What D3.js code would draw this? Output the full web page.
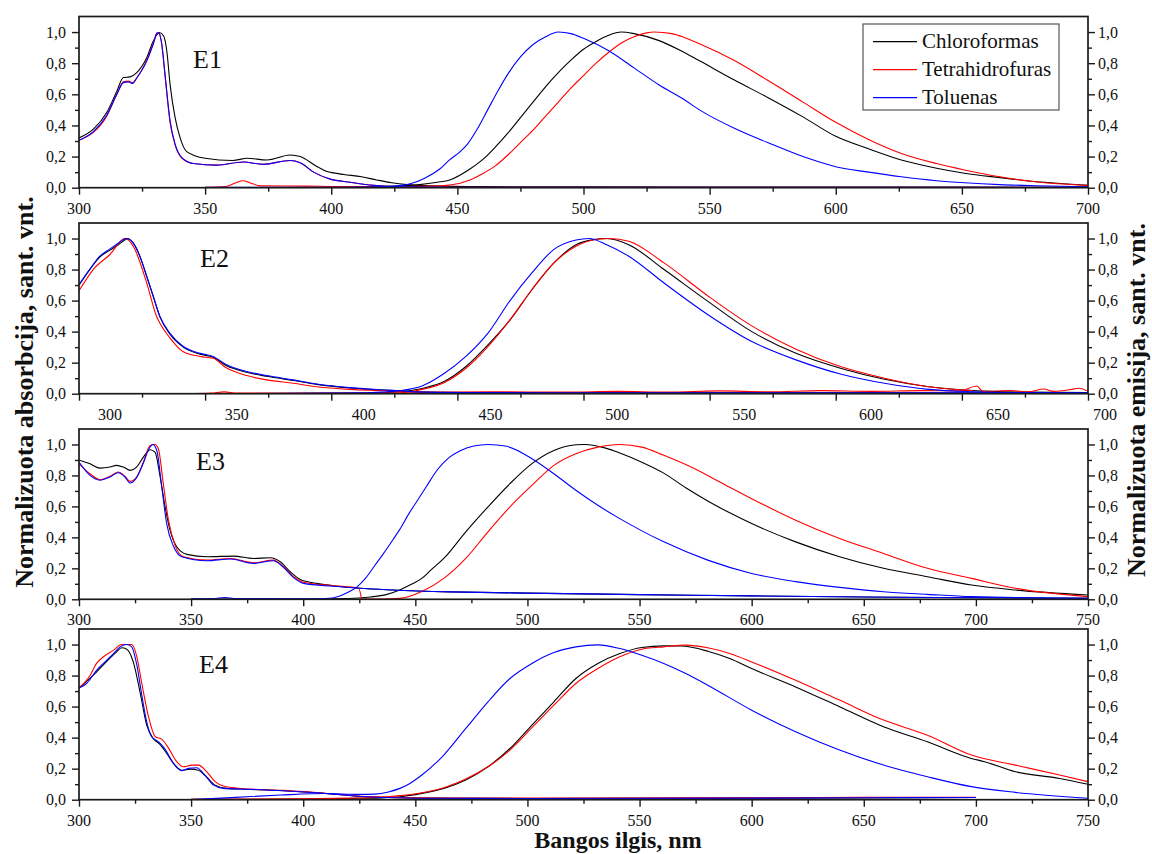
<!DOCTYPE html>
<html>
<head>
<meta charset="utf-8">
<script src="https://cdn.jsdelivr.net/npm/d3@7"></script>
<style>
  body { margin: 0; background: #fff; }
  svg { display: block; }
  text { font-family: "Liberation Serif", "Times New Roman", serif; fill: #111; }
</style>
</head>
<body>
<svg id="chart" width="1152" height="854"></svg>
<script>
// ---------- series: [wavelength nm, normalised intensity] ----------
const solvents = ["Chloroformas", "Tetrahidrofuras", "Toluenas"];
const solventColors = ["#000000", "#ff0000", "#0000ff"];
const panelNames = ["E1", "E2", "E3", "E4"];

const yTickValues = [0, 0.2, 0.4, 0.6, 0.8, 1.0];
const yTickLabels = ["0,0", "0,2", "0,4", "0,6", "0,8", "1,0"];
const yMinorValues = [0.1, 0.3, 0.5, 0.7, 0.9];
const xLabelsShort = [300, 350, 400, 450, 500, 550, 600, 650, 700];
const xLabelsLong = [300, 350, 400, 450, 500, 550, 600, 650, 700, 750];

// E1
const e1AbsChl = [[300,0.32],[305.7,0.376],[311,0.483],[315,0.62],[317.6,0.708],[320.2,0.712],[322.9,0.74],[326.9,0.837],[329.5,0.944],[331.9,0.997],[333.5,0.976],[334.8,0.88],[336.1,0.664],[338.1,0.45],[340.1,0.32],[342.7,0.232],[350,0.189],[361,0.175],[366.7,0.189],[374.5,0.178],[383.7,0.21],[387.7,0.2],[394.3,0.136],[398.3,0.104],[400.9,0.095],[405,0.085],[412,0.07],[418,0.05],[424,0.032],[430,0.02],[440,0.012],[460,0.007],[500,0.005],[600,0.004],[700,0.003]];
const e1AbsThf = [[300,0.305],[305.7,0.355],[311,0.46],[315,0.6],[317.6,0.68],[319.6,0.685],[321.3,0.675],[322.9,0.705],[326.9,0.82],[329.5,0.93],[331,0.995],[331.8,0.99],[332.8,0.92],[334.1,0.72],[336.1,0.42],[338.1,0.275],[340.7,0.19],[345.4,0.155],[354.6,0.145],[365.2,0.165],[373.1,0.15],[383.7,0.175],[387.7,0.16],[393,0.1],[399.6,0.055],[407.5,0.035],[416.8,0.015],[427.4,0.005],[450,0.003],[700,0.002]];
const e1AbsTol = [[300,0.305],[305.7,0.36],[311,0.465],[315,0.6],[317.6,0.675],[319.6,0.68],[321.3,0.67],[322.9,0.705],[326.9,0.815],[329.5,0.925],[331,0.995],[331.8,0.99],[332.8,0.925],[334.1,0.73],[336.1,0.43],[338.1,0.28],[340.7,0.195],[345.4,0.155],[354.6,0.145],[365.2,0.165],[373.1,0.15],[383.7,0.175],[387.7,0.16],[393,0.1],[399.6,0.055],[407.5,0.035],[416.8,0.015],[427.4,0.005],[450,0.003],[700,0.002]];
const e1EmChl = [[350,0.0],[400,0.002],[425,0.01],[435,0.02],[442,0.035],[447,0.05],[455,0.12],[460,0.18],[465,0.26],[470,0.35],[475,0.45],[480,0.55],[485,0.65],[490,0.74],[495,0.82],[500,0.89],[505,0.94],[510,0.98],[515,1.0],[520,0.99],[530,0.945],[538,0.885],[546,0.815],[560,0.69],[573,0.58],[587,0.455],[600,0.33],[613,0.25],[626,0.178],[640,0.125],[651,0.093],[665,0.065],[679,0.04],[700,0.015]];
const e1EmThf = [[350,0.003],[358,0.008],[362,0.03],[365,0.045],[368,0.03],[372,0.012],[390,0.01],[400,0.008],[420,0.006],[440,0.01],[447,0.017],[455,0.05],[460,0.09],[465,0.14],[470,0.21],[475,0.29],[480,0.37],[485,0.46],[490,0.55],[495,0.64],[500,0.72],[505,0.8],[510,0.87],[515,0.93],[520,0.97],[525,0.995],[528,1.0],[535,0.99],[540,0.965],[546,0.925],[560,0.815],[573,0.69],[587,0.55],[600,0.42],[613,0.31],[626,0.22],[640,0.155],[651,0.114],[665,0.07],[679,0.038],[700,0.015]];
const e1EmTol = [[350,0.002],[400,0.003],[420,0.006],[430,0.02],[437,0.06],[443,0.12],[447,0.18],[451,0.23],[454,0.28],[458,0.38],[462,0.5],[466,0.62],[470,0.73],[475,0.84],[480,0.92],[485,0.97],[490,1.0],[495,0.99],[500,0.96],[510,0.88],[520,0.77],[530,0.66],[540,0.565],[546,0.5],[560,0.38],[573,0.29],[587,0.2],[600,0.135],[613,0.1],[626,0.07],[640,0.045],[651,0.032],[665,0.02],[679,0.013],[700,0.006]];

// E2
const e2AbsChl = [[287.8,0.7],[292,0.8],[296,0.88],[300,0.925],[303.3,0.96],[306.3,0.995],[307,1.0],[309.2,0.97],[311.8,0.885],[314.5,0.755],[317.1,0.625],[319.7,0.495],[323.6,0.385],[328.9,0.3],[335.5,0.255],[340.7,0.235],[346,0.18],[353.9,0.138],[361.8,0.112],[372.3,0.085],[381.5,0.06],[394.6,0.037],[407.7,0.023],[414.3,0.02],[420,0.012],[440,0.008],[500,0.006],[600,0.005],[685.5,0.004]];
const e2AbsThf = [[287.8,0.663],[293.4,0.8],[300,0.897],[305.9,1.0],[309.2,0.95],[314.5,0.713],[318.4,0.497],[319.7,0.454],[323.6,0.36],[328.9,0.27],[335.5,0.24],[340.7,0.228],[346,0.165],[353.9,0.117],[361.8,0.089],[372.3,0.067],[381.5,0.045],[394.6,0.028],[407.7,0.02],[420,0.01],[450,0.012],[480,0.01],[500,0.015],[520,0.01],[540,0.018],[560,0.012],[580,0.02],[600,0.015],[620,0.02],[635,0.018],[641.7,0.05],[644,0.015],[655,0.02],[662,0.012],[668,0.03],[672,0.015],[678,0.025],[682,0.035],[685.5,0.015]];
const e2AbsTol = [[287.8,0.703],[292,0.8],[296,0.886],[300,0.933],[303.3,0.97],[306.3,1.0],[309.2,0.97],[311.8,0.886],[314.5,0.756],[317.1,0.627],[319.7,0.497],[323.6,0.39],[328.9,0.304],[335.5,0.26],[340.7,0.24],[346,0.186],[353.9,0.143],[361.8,0.117],[372.3,0.089],[381.5,0.063],[394.6,0.039],[407.7,0.024],[414.3,0.02],[420,0.012],[440,0.008],[500,0.006],[600,0.005],[685.5,0.005]];
const e2EmChl = [[330,0.0],[400,0.004],[414.3,0.013],[423,0.034],[431.7,0.078],[440.3,0.175],[449,0.315],[457.7,0.476],[466.3,0.67],[475,0.843],[483.7,0.96],[490.6,0.993],[495.8,1.0],[504.5,0.96],[518.4,0.8],[535.7,0.595],[553,0.4],[570.4,0.26],[587.9,0.164],[605.3,0.093],[622.7,0.045],[640,0.02],[660,0.01],[685.5,0.007]];
const e2EmThf = [[330,0.0],[340,0.004],[345,0.012],[350,0.004],[400,0.004],[414.3,0.006],[423,0.028],[431.7,0.071],[440.3,0.164],[449,0.304],[457.7,0.476],[466.3,0.67],[475,0.843],[483.7,0.95],[492,0.995],[497,1.0],[504.5,0.983],[518.4,0.843],[535.7,0.63],[553,0.437],[570.4,0.287],[587.9,0.175],[605.3,0.1],[622.7,0.045],[640,0.02]];
const e2EmTol = [[330,0.0],[400,0.005],[407,0.01],[414.3,0.02],[423,0.05],[431.7,0.13],[440.3,0.24],[449,0.39],[457.7,0.6],[466.3,0.778],[475,0.93],[483.7,0.99],[488.8,1.0],[495.8,0.96],[504.5,0.886],[518.4,0.713],[535.7,0.509],[553,0.336],[570.4,0.218],[587.9,0.127],[605.3,0.067],[622.7,0.028],[640,0.013],[660,0.007],[685.5,0.005]];

// E3
const e3AbsChl = [[300,0.9],[304.9,0.875],[309.4,0.847],[313.8,0.854],[316.8,0.865],[319.8,0.854],[322.8,0.833],[325.7,0.854],[328.7,0.918],[331.7,0.966],[333.9,0.95],[336.2,0.79],[338.4,0.597],[340.6,0.447],[343.6,0.339],[348.1,0.29],[357,0.275],[369,0.279],[377.8,0.264],[385.3,0.268],[389.7,0.243],[394.2,0.178],[398.7,0.128],[406.1,0.103],[413.5,0.088],[425.4,0.071],[440,0.06],[465.6,0.048],[500,0.04],[550,0.03],[600,0.022],[650,0.015],[700,0.01],[750,0.006]];
const e3AbsThf = [[300,0.875],[304.9,0.811],[309.4,0.772],[313.8,0.794],[317.5,0.822],[320.5,0.794],[322.8,0.762],[325.7,0.79],[328.7,0.886],[331.7,0.993],[333.9,1.0],[335.4,0.972],[337.6,0.747],[339.9,0.511],[342.8,0.35],[346.6,0.275],[357,0.253],[367.5,0.264],[377.8,0.236],[386.7,0.253],[391.2,0.21],[395.7,0.146],[400.1,0.11],[413.5,0.088],[424.7,0.071],[426,0.002]];
const e3AbsTol = [[300,0.886],[304.9,0.8],[309.4,0.769],[313.8,0.79],[317.5,0.817],[320.5,0.79],[322.8,0.751],[325.7,0.786],[328.7,0.88],[331,0.966],[332.9,1.0],[334.7,0.961],[336.9,0.726],[339.1,0.489],[342.1,0.344],[345.8,0.275],[357,0.249],[367.5,0.26],[377.8,0.232],[386.7,0.249],[391.2,0.206],[395.7,0.14],[400.1,0.103],[413.5,0.084],[425.4,0.071],[440,0.06],[465.6,0.048],[500,0.04],[550,0.03],[600,0.022],[650,0.015],[700,0.01],[750,0.006]];
const e3EmChl = [[350,0.002],[400,0.002],[420,0.005],[430,0.015],[437,0.03],[443,0.06],[448,0.095],[452.9,0.135],[457,0.19],[462.7,0.264],[472.5,0.436],[482.4,0.597],[492.2,0.747],[502,0.876],[511.8,0.961],[521.6,0.998],[525.5,1.0],[535.3,0.975],[541.2,0.945],[551,0.886],[560.8,0.815],[570.6,0.72],[580.4,0.635],[590,0.56],[600,0.489],[619.6,0.371],[639.2,0.275],[658.8,0.2],[678.4,0.146],[698,0.092],[717.6,0.06],[750,0.028]];
const e3EmThf = [[426,0.002],[435,0.002],[443,0.006],[452.9,0.05],[462.7,0.135],[472.5,0.264],[482.4,0.436],[492.2,0.597],[502,0.736],[511.8,0.865],[521.6,0.94],[531.4,0.983],[541.2,1.0],[551,0.983],[560.8,0.93],[570.6,0.87],[580.4,0.8],[590,0.725],[600,0.65],[619.6,0.511],[639.2,0.393],[658.8,0.296],[678.4,0.2],[698,0.135],[717.6,0.071],[750,0.017]];
const e3EmTol = [[350,0.003],[360,0.005],[365,0.012],[370,0.005],[400,0.003],[410,0.005],[416,0.02],[420,0.045],[424,0.08],[428,0.14],[432,0.22],[436,0.3],[440,0.385],[443,0.45],[447,0.55],[451,0.64],[455,0.73],[460,0.84],[465,0.915],[470,0.96],[476,0.99],[482.4,1.0],[490.2,0.99],[502,0.908],[511.8,0.811],[521.6,0.704],[531.4,0.607],[541.2,0.521],[560.8,0.371],[580.4,0.253],[600,0.167],[619.6,0.114],[639.2,0.077],[658.8,0.049],[678.4,0.032],[698,0.017],[750,0.006]];

// E4
const e4AbsChl = [[300,0.72],[307.9,0.824],[312.4,0.892],[316.8,0.953],[319,0.979],[321.3,0.97],[324.2,0.888],[327.2,0.695],[330.2,0.48],[333.1,0.395],[336.1,0.356],[339.1,0.298],[342.8,0.223],[345.8,0.19],[349.5,0.197],[353.3,0.19],[356.3,0.155],[360.7,0.094],[365.8,0.073],[371.9,0.069],[391.2,0.058],[406.1,0.045],[428.4,0.019],[458.2,0.01],[500,0.008],[600,0.01],[650,0.012],[700,0.014]];
const e4AbsThf = [[300,0.72],[304.9,0.8],[307.9,0.88],[310.9,0.921],[315.4,0.964],[319,1.0],[323.5,1.0],[325.8,0.921],[328,0.75],[331,0.535],[334,0.406],[337,0.389],[340,0.331],[343.6,0.245],[346.6,0.212],[350.3,0.223],[353.3,0.223],[357,0.18],[360.7,0.116],[364.4,0.088],[371.9,0.072],[391.2,0.06],[406.1,0.046],[428.4,0.02],[458.2,0.011],[500,0.01],[600,0.012],[655,0.016],[700,0.016]];
const e4AbsTol = [[300,0.72],[303.4,0.749],[307.9,0.835],[312.4,0.899],[315.4,0.942],[318.3,0.985],[321.3,1.0],[323.5,0.985],[325.8,0.867],[328,0.674],[330.2,0.502],[332.4,0.406],[335.4,0.374],[338.4,0.326],[342.1,0.234],[345.8,0.187],[348.8,0.202],[352.5,0.206],[355.5,0.17],[360,0.094],[364.4,0.073],[371.9,0.069],[391.2,0.058],[406.1,0.045],[428.4,0.019],[458.2,0.009],[500,0.008],[600,0.01],[650,0.013],[700,0.014]];
const e4EmChl = [[350,0.002],[400,0.004],[420,0.008],[435,0.012],[443.1,0.019],[452.9,0.041],[462.7,0.073],[472.5,0.127],[482.4,0.212],[492.2,0.33],[502,0.481],[511.8,0.631],[521.6,0.781],[531.4,0.878],[541.2,0.942],[551,0.981],[560.8,0.991],[568.6,0.99],[580.4,0.957],[590.2,0.91],[600,0.845],[619.6,0.727],[639.2,0.599],[658.8,0.47],[678.4,0.373],[698,0.266],[703.9,0.245],[717.6,0.18],[737.3,0.137],[750,0.099]];
const e4EmThf = [[350,0.002],[400,0.005],[420,0.01],[435,0.016],[443.1,0.026],[452.9,0.045],[462.7,0.077],[472.5,0.133],[482.4,0.212],[492.2,0.32],[502,0.464],[511.8,0.609],[521.6,0.749],[531.4,0.845],[541.2,0.921],[551,0.97],[560.8,0.985],[570.6,0.996],[580.4,0.979],[590.2,0.942],[600,0.888],[619.6,0.77],[639.2,0.642],[658.8,0.513],[678.4,0.416],[698,0.288],[717.6,0.223],[737.3,0.159],[750,0.116]];
const e4EmTol = [[350,0.0],[370,0.015],[390,0.03],[410,0.04],[425,0.034],[432,0.036],[438,0.05],[443.1,0.073],[447,0.1],[452.9,0.159],[462.7,0.288],[472.5,0.459],[482.4,0.631],[492.2,0.781],[502,0.878],[511.8,0.948],[521.6,0.985],[531.4,0.998],[541.2,0.974],[551,0.931],[560.8,0.878],[570.6,0.813],[580.4,0.738],[600,0.577],[619.6,0.438],[639.2,0.32],[658.8,0.223],[678.4,0.148],[698,0.084],[717.6,0.047],[750,0.009]];

// ---------- layout ----------
const W = 1152, H = 854;
const L = 79, R = 1088;
const FONT_TICK = 16;

const panels = [
  { name: panelNames[0], top: 16.5, bottom: 187.7, dataDomain: [300, 700], tickDomain: [300, 700], labels: xLabelsShort,
    nameX: 193, nameY: 68, series: [[e1AbsChl, e1EmChl], [e1AbsThf, e1EmThf], [e1AbsTol, e1EmTol]] },
  { name: panelNames[1], top: 223, bottom: 393.7, dataDomain: [287.8, 685.5], tickDomain: [300, 700], labels: xLabelsShort,
    nameX: 200, nameY: 267, series: [[e2AbsChl, e2EmChl], [e2AbsThf, e2EmThf], [e2AbsTol, e2EmTol]] },
  { name: panelNames[2], top: 429, bottom: 599.3, dataDomain: [300, 750], tickDomain: [300, 750], labels: xLabelsLong,
    nameX: 196, nameY: 470, series: [[e3AbsChl, e3EmChl], [e3AbsThf, e3EmThf], [e3AbsTol, e3EmTol]] },
  { name: panelNames[3], top: 629, bottom: 799.7, dataDomain: [300, 750], tickDomain: [300, 750], labels: xLabelsLong,
    nameX: 199, nameY: 672.7, series: [[e4AbsChl, e4EmChl], [e4AbsThf, e4EmThf], [e4AbsTol, e4EmTol]] }
];

const svg = d3.select("#chart");
svg.append("rect").attr("width", W).attr("height", H).attr("fill", "#fff");
const defs = svg.append("defs");

panels.forEach((p, i) => {
  const x = d3.scaleLinear().domain(p.dataDomain).range([L, R]);
  const xt = d3.scaleLinear().domain(p.tickDomain).range([L, R]);
  const y = d3.scaleLinear().domain([0, 1.1]).range([p.bottom, p.top]);
  const g = svg.append("g").attr("class", "panel");

  defs.append("clipPath").attr("id", "clip" + i)
    .append("rect").attr("x", L).attr("y", p.top).attr("width", R - L).attr("height", p.bottom - p.top);

  const line = d3.line().x(d => x(d[0])).y(d => y(d[1])).curve(d3.curveMonotoneX);
  const plot = g.append("g").attr("clip-path", `url(#clip${i})`);
  p.series.forEach((pair, s) => {
    pair.forEach(arr => {
      plot.append("path").attr("d", line(arr))
        .attr("fill", "none").attr("stroke", solventColors[s]).attr("stroke-width", 1.1)
        .attr("stroke-linejoin", "round");
    });
  });

  // bottom ticks
  const lo = p.tickDomain[0], hi = p.tickDomain[1];
  const majors = d3.range(lo, hi + 1, 50);
  const minors = d3.range(lo + 25, hi, 50);
  g.append("g").attr("transform", `translate(0,${p.bottom})`)
    .call(d3.axisBottom(xt).tickValues(majors).tickSize(7).tickSizeOuter(0).tickFormat(""));
  g.append("g").attr("transform", `translate(0,${p.bottom})`)
    .call(d3.axisBottom(xt).tickValues(minors).tickSize(4).tickSizeOuter(0).tickFormat(""));

  // left / right ticks
  g.append("g").attr("transform", `translate(${L},0)`)
    .call(d3.axisLeft(y).tickValues(yTickValues).tickSize(7).tickSizeOuter(0).tickFormat(""));
  g.append("g").attr("transform", `translate(${L},0)`)
    .call(d3.axisLeft(y).tickValues(yMinorValues).tickSize(4).tickSizeOuter(0).tickFormat(""));
  g.append("g").attr("transform", `translate(${R},0)`)
    .call(d3.axisRight(y).tickValues(yTickValues).tickSize(7).tickSizeOuter(0).tickFormat(""));
  g.append("g").attr("transform", `translate(${R},0)`)
    .call(d3.axisRight(y).tickValues(yMinorValues).tickSize(4).tickSizeOuter(0).tickFormat(""));

  g.selectAll(".domain").remove();
  g.selectAll(".tick line").attr("stroke", "#1a1a1a").attr("stroke-width", 1.4);

  // frame
  g.append("rect").attr("x", L).attr("y", p.top).attr("width", R - L).attr("height", p.bottom - p.top)
    .attr("fill", "none").attr("stroke", "#1a1a1a").attr("stroke-width", 1.7);

  // tick labels
  g.selectAll(".xl").data(p.labels).join("text")
    .attr("x", v => Math.min(x(v), R + 17)).attr("y", p.bottom + 26)
    .attr("text-anchor", "middle").attr("font-size", FONT_TICK).text(v => v);
  g.selectAll(".yl").data(yTickValues).join("text")
    .attr("x", L - 13).attr("y", v => y(v)).attr("dy", "0.35em")
    .attr("text-anchor", "end").attr("font-size", FONT_TICK).text((v, k) => yTickLabels[k]);
  g.selectAll(".yr").data(yTickValues).join("text")
    .attr("x", R + 10).attr("y", v => y(v)).attr("dy", "0.35em")
    .attr("text-anchor", "start").attr("font-size", FONT_TICK).text((v, k) => yTickLabels[k]);

  g.append("text").attr("x", p.nameX).attr("y", p.nameY).attr("font-size", 26).text(p.name);
});

// legend
const lg = svg.append("g");
lg.append("rect").attr("x", 863).attr("y", 24).attr("width", 196).attr("height", 86)
  .attr("fill", "#fff").attr("stroke", "#555").attr("stroke-width", 1.2);
solvents.forEach((name, k) => {
  const cy = 41.7 + k * 28;
  lg.append("line").attr("x1", 873).attr("x2", 917).attr("y1", cy).attr("y2", cy)
    .attr("stroke", solventColors[k]).attr("stroke-width", 1.2);
  lg.append("text").attr("x", 922).attr("y", cy + 6.5).attr("font-size", 21).text(name);
});

// axis titles
svg.append("text").attr("transform", "translate(33,392) rotate(-90)")
  .attr("text-anchor", "middle").attr("font-size", 26).attr("font-weight", "bold")
  .text("Normalizuota absorbcija, sant. vnt.");
svg.append("text").attr("transform", "translate(1145,400) rotate(-90)")
  .attr("text-anchor", "middle").attr("font-size", 26).attr("font-weight", "bold")
  .text("Normalizuota emisija, sant. vnt.");
svg.append("text").attr("x", 618).attr("y", 848)
  .attr("text-anchor", "middle").attr("font-size", 24).attr("font-weight", "bold")
  .text("Bangos ilgis, nm");
</script>
</body>
</html>
